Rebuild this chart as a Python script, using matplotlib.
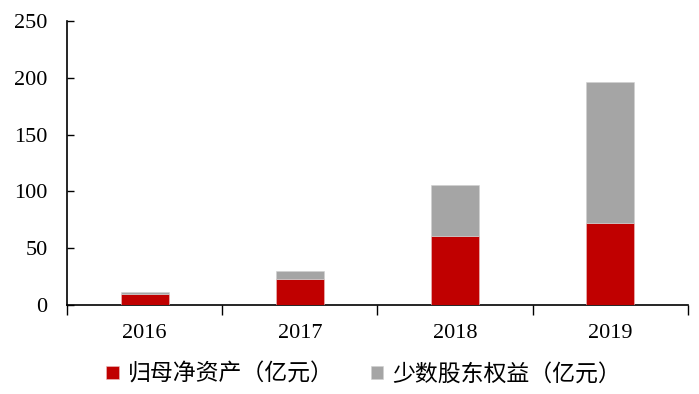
import matplotlib.pyplot as plt
import numpy as np

plt.rcParams['font.family'] = ['Liberation Serif', 'Noto Sans CJK SC']

years = ["2016", "2017", "2018", "2019"]
parent_equity = [9.7, 23.2, 60.7, 72.4]     # 归母净资产（亿元）
minority_equity = [1.3, 6.5, 44.9, 123.6]   # 少数股东权益（亿元）
yticks = [0, 50, 100, 150, 200, 250]

fig = plt.figure(figsize=(6.99, 3.94), dpi=100)
ax = fig.add_axes([0.096, 0.226, 0.888, 0.721])

x = np.arange(len(years))
w = 0.31
ax.bar(x, parent_equity, w, color="#C00000", edgecolor="#e8c0c0", linewidth=0.4,
       label="归母净资产（亿元）", zorder=3)
ax.bar(x, minority_equity, w, bottom=parent_equity, color="#A5A5A5",
       edgecolor="#d0d0d0", linewidth=0.4, label="少数股东权益（亿元）", zorder=3)

ax.set_xlim(-0.5, len(years) - 0.5)
ax.set_ylim(0, 250)
ax.set_yticks(yticks)
ax.tick_params(axis="y", direction="in", length=5, width=1, labelsize=16, pad=14)

# category labels in the middle, tick marks on category boundaries
ax.set_xticks(x)
ax.set_xticklabels(years)
ax.tick_params(axis="x", which="major", length=0, labelsize=16, pad=14)
ax.set_xticks(np.arange(-0.5, len(years)), minor=True)
ax.tick_params(axis="x", which="minor", direction="out", length=7, width=1)

for s in ["top", "right"]:
    ax.spines[s].set_visible(False)
ax.spines["left"].set_linewidth(1.2)
ax.spines["bottom"].set_linewidth(1.2)

ax.legend(loc="upper center", bbox_to_anchor=(0.478, -0.13), ncol=2, frameon=False,
          prop={"family": ["Noto Sans CJK SC"], "size": 16.5},
          handlelength=0.55, handleheight=0.55, handletextpad=0.4, columnspacing=1.6)

fig.savefig("out.png", dpi=100)
